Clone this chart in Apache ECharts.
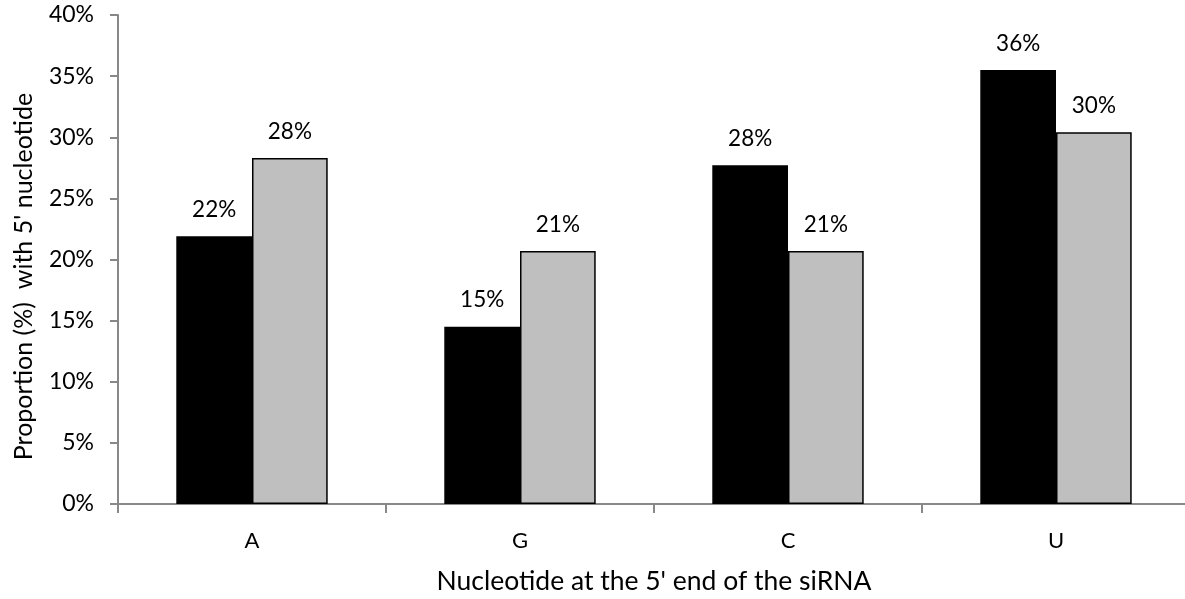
<!DOCTYPE html>
<html>
<head>
<meta charset="utf-8">
<script src="https://cdn.jsdelivr.net/npm/echarts@6/dist/echarts.min.js"></script>
<style>html,body{margin:0;padding:0;background:#fff}#c{width:1185px;height:599px}</style>
</head>
<body>
<div id="c"></div>
<script>
const categories = ['A', 'G', 'C', 'U'];
const seriesBlack = [21.9, 14.5, 27.7, 35.5];
const seriesGray = [28.3, 20.7, 20.7, 30.4];
const yTicks = [0, 5, 10, 15, 20, 25, 30, 35, 40];

const FONT = 'Lato';
const chart = echarts.init(document.getElementById('c'));
const labelOpt = {
  show: true, position: 'top', distance: 15,
  fontFamily: FONT, fontSize: 22.5, color: '#000',
  formatter: p => Math.round(p.value) + '%'
};
chart.setOption({
  animation: false,
  grid: { left: 118, right: -5, top: 15, bottom: 95, containLabel: false, outerBoundsMode: 'none' },
  xAxis: {
    type: 'category', data: categories,
    name: "Nucleotide at the 5' end of the siRNA",
    nameLocation: 'middle', nameGap: 64,
    nameTextStyle: { fontFamily: FONT, fontSize: 26.5, color: '#000' },
    axisLine: { lineStyle: { color: '#888', width: 2 } },
    axisTick: { show: true, length: 9, lineStyle: { color: '#888', width: 2 } },
    axisLabel: { fontFamily: FONT, fontSize: 22, color: '#000', margin: 26 }
  },
  yAxis: {
    type: 'value', min: yTicks[0], max: yTicks[yTicks.length - 1], interval: 5,
    name: "Proportion (%)  with 5' nucleotide",
    nameLocation: 'middle', nameGap: 82,
    nameTextStyle: { fontFamily: FONT, fontSize: 25, color: '#000', padding: [0, 34, 0, 0] },
    axisLine: { show: true, lineStyle: { color: '#888', width: 2 } },
    axisTick: { show: true, length: 8, lineStyle: { color: '#888', width: 2 } },
    splitLine: { show: false },
    axisLabel: { fontFamily: FONT, fontSize: 23, color: '#000', margin: 24, formatter: v => v + '%' }
  },
  series: [
    { type: 'bar', data: seriesBlack, barGap: '0%', barCategoryGap: '43.5%',
      itemStyle: { color: '#000', borderColor: '#000', borderWidth: 1.5 }, label: labelOpt },
    { type: 'bar', data: seriesGray,
      itemStyle: { color: '#bfbfbf', borderColor: '#000', borderWidth: 1.5 }, label: labelOpt }
  ]
});
</script>
</body>
</html>
